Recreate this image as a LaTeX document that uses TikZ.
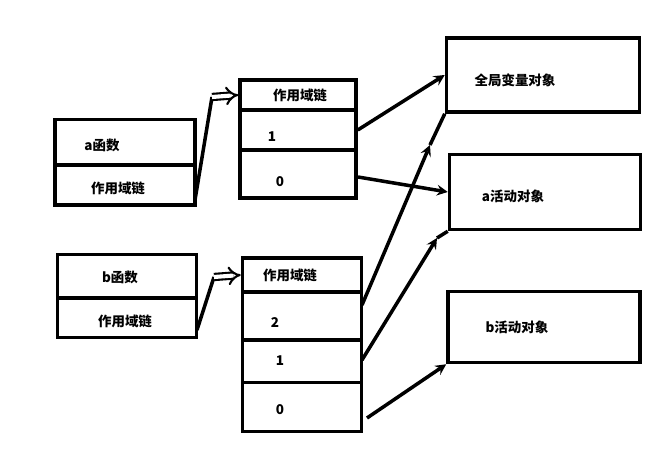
\documentclass[tikz,border=0pt]{standalone}
\usepackage{fontspec}
\newfontfamily\cjk{Noto Sans CJK SC}
\usetikzlibrary{arrows}
\begin{document}
\begin{tikzpicture}[x=0.03cm,y=-0.03cm,
        cell/.style = {draw, rectangle, line width=3pt, inner sep=0pt},
]
\tikzstyle{link}=[line width=3pt, ->, >=stealth]
\tikzstyle{chain}=[line width=1.8pt, double distance=3.5pt, -implies]
\tikzstyle{txt}=[font=\cjk\bfseries\fontsize{11.5}{13}\selectfont]

	\useasboundingbox (0,0) rectangle (672,452);

	% functions
	\node[cell, minimum width=140*0.03cm, minimum height=45*0.03cm] (fa) at (125,142) {};
	\node[txt] at (102,145) {a函数};
	\node[cell, minimum width=140*0.03cm, minimum height=40*0.03cm] (fas) at (125,185) {};
	\node[txt] at (118,188) {作用域链};

	\node[cell, minimum width=139*0.03cm, minimum height=43*0.03cm] (fb) at (127,276) {};
	\node[txt] at (120,277) {b函数};
	\node[cell, minimum width=139*0.03cm, minimum height=39*0.03cm] (fbs) at (127,318) {};
	\node[txt] at (125,321) {作用域链};

	% scope chain of a
	\node[cell, minimum width=116*0.03cm, minimum height=30*0.03cm] (ca0) at (298,95) {};
	\node[txt] at (300,95) {作用域链};
	\node[cell, minimum width=116*0.03cm, minimum height=40*0.03cm] (ca1) at (298,130) {};
	\node[txt] at (272,137) {1};
	\node[cell, minimum width=116*0.03cm, minimum height=48*0.03cm] (ca2) at (298,174) {};
	\node[txt] at (280,182) {0};

	% scope chain of b
	\node[cell, minimum width=119*0.03cm, minimum height=34*0.03cm] (cb0) at (302,275) {};
	\node[txt] at (290,275) {作用域链};
	\node[cell, minimum width=119*0.03cm, minimum height=48*0.03cm] (cb1) at (302,316) {};
	\node[txt] at (275,323) {2};
	\node[cell, minimum width=119*0.03cm, minimum height=43*0.03cm] (cb2) at (302,361) {};
	\node[txt] at (280,361) {1};
	\node[cell, minimum width=119*0.03cm, minimum height=49*0.03cm] (cb3) at (302,407) {};
	\node[txt] at (280,410) {0};

	% objects
	\node[cell, minimum width=193*0.03cm, minimum height=74*0.03cm] (glob) at (543,75) {};
	\node[txt] at (515,80) {全局变量对象};
	\node[cell, minimum width=191*0.03cm, minimum height=75*0.03cm] (acta) at (545,192) {};
	\node[txt] at (513,196) {a活动对象};
	\node[cell, minimum width=192*0.03cm, minimum height=71*0.03cm] (actb) at (544,327) {};
	\node[txt] at (517,327) {b活动对象};

	\coordinate (ka) at (212,97);
	\coordinate (kb) at (214,277);
	\coordinate (m2) at (430,145);
	\coordinate (m1) at (437,238);

	\draw[line width=3pt] (195,200) -- (ka);
	\draw[chain] (ka) -- (ca0.west);
	\draw[line width=3pt] (197,330) -- (kb);
	\draw[chain] (kb) -- (cb0.west);

	\draw[link] (ca1.east) -- (glob.west);
	\draw[link] (358,177) -- (acta.west);
	\draw[link] (362,305) -- (m2);
	\draw[line width=3pt] (m2) -- (glob.south west);
	\draw[link] (362,360) -- (m1);
	\draw[line width=3pt] (m1) -- (acta.south west);
	\draw[link] (367,418) -- (actb.south west);

\end{tikzpicture}
\end{document}
